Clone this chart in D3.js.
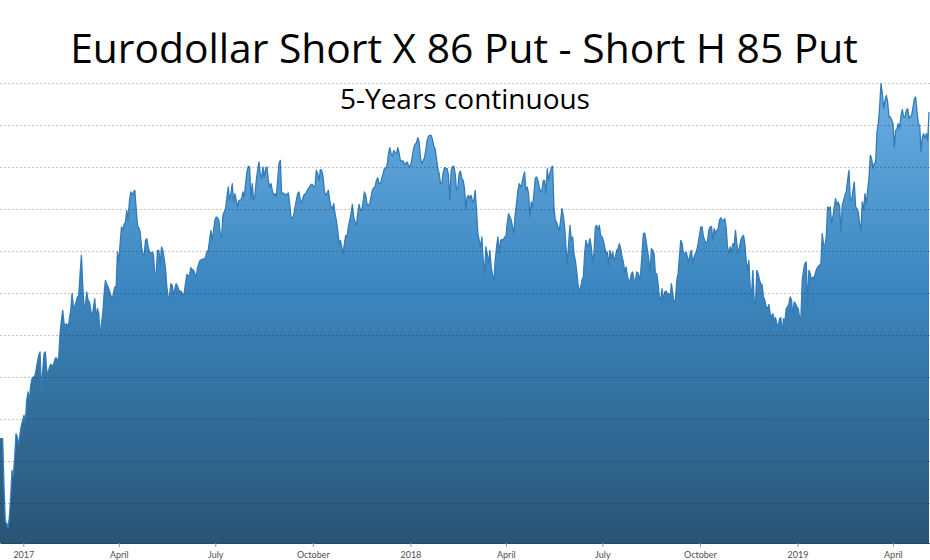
<!DOCTYPE html>
<html>
<head>
<meta charset="utf-8">
<script src="https://cdn.jsdelivr.net/npm/d3@7"></script>
<style>
  html, body { margin: 0; padding: 0; background: #fff; }
  svg { display: block; }
</style>
</head>
<body>
<svg id="chart" width="930" height="560"></svg>
<script>
// ---------------- DATA ----------------
const titleText = "Eurodollar Short X 86 Put - Short H 85 Put";
const subtitleText = "5-Years continuous";

// Series sampled at a regular time step from the first to the last date
const startDate = "2016-12-10";
const endDate = "2019-05-06";
const sampleStepHours = 30.21;

// Spread value (chart units; grid lines every 126 units)
const values = [
  // Dec 2016 - Jun 2017
  319,319,319,174,69,66,49,84,144,224,204,264,334,324,299,334,359,374,389,369,
  434,459,434,479,499,504,506,524,549,569,579,464,524,574,579,524,512,534,542,539,
  539,556,562,552,564,634,674,704,664,659,664,649,679,704,754,714,716,729,744,749,
  814,869,779,714,719,759,734,729,704,679,714,739,679,709,694,624,664,694,754,794,
  782,774,762,749,739,754,774,774,879,849,904,954,944,962,969,1004,974,1034,1059,1049,
  1059,1064,1009,957,952,939,894,874,869,914,919,894,879,874,879,869,
  // Jun 2017 - Nov 2017
  809,814,884,884,839,894,884,859,829,774,742,746,784,779,749,769,784,776,764,762,
  760,749,756,786,812,806,809,832,826,824,814,806,832,845,854,856,858,857,864,880,
  884,914,944,914,944,974,984,982,974,934,924,989,999,1009,1044,1074,1034,1054,1084,1029,
  1054,1034,1014,1034,1034,1039,1059,1044,1084,1119,1136,1134,1039,1084,1034,1049,1094,1124,1149,1114,
  1099,1134,1104,1129,1134,1094,1074,1084,1064,1049,1054,1044,1094,1144,1154,1054,1056,1054,1049,1052,
  1056,1024,984,979,989,1012,1034,1054,1059,1034,1026,1042,1052,1054,1062,1069,
  // Nov 2017 - Apr 2018
  1074,1082,1082,1074,1076,1124,1114,1094,1126,1124,1104,1064,1049,1054,1064,1034,1014,1009,1024,994,
  974,944,904,914,894,874,904,929,924,954,974,994,1022,982,969,959,994,1022,1004,1004,
  1029,1059,1049,1022,1020,1024,1044,1064,1072,1074,1094,1102,1084,1084,1100,1114,1130,1130,1139,1172,
  1192,1174,1166,1184,1176,1174,1192,1176,1152,1152,1152,1142,1144,1149,1139,1134,1144,1169,1192,1202,
  1206,1222,1209,1162,1144,1152,1162,1184,1214,1226,1229,1229,1216,1196,1189,1159,1129,1114,1084,1084,
  1116,1132,1130,1129,1109,1034,1124,1136,1136,1114,1064,1069,1116,1122,1099,1094,
  // Apr 2018 - Sep 2018
  1069,1009,1044,1049,1039,1049,1029,1034,1064,1004,934,914,894,924,854,814,894,874,844,884,
  834,809,794,854,894,924,874,914,916,914,924,924,964,994,984,974,954,934,994,1024,
  1064,1084,1074,1084,1104,1119,1064,1074,1054,984,1029,1014,1054,1099,1104,1094,1074,1059,1064,1094,
  1094,1054,1129,1094,1114,1132,1136,1014,974,969,954,944,974,1009,989,954,894,844,904,959,
  914,924,874,854,824,784,759,774,794,804,874,914,894,904,919,894,849,874,954,959,
  944,959,929,924,914,894,874,879,839,884,859,879,854,864,884,889,
  // Sep 2018 - Feb 2019
  904,889,864,849,819,834,809,789,794,814,819,794,794,819,816,794,819,874,934,936,
  914,884,859,814,889,884,874,814,814,784,744,734,769,734,759,762,754,754,739,784,
  754,729,734,794,814,864,914,904,874,874,879,864,846,874,884,844,864,874,884,904,
  929,954,954,924,914,906,909,944,954,956,914,949,934,944,949,974,982,974,974,979,
  954,894,874,894,879,904,899,944,904,874,894,914,924,929,904,854,824,854,774,744,
  824,734,724,824,814,794,784,779,744,734,714,709,722,694,684,694,
  // Feb 2019 - May 2019
  674,682,664,654,679,682,634,679,669,709,714,724,744,734,689,729,724,714,709,684,
  679,794,824,844,849,714,824,814,794,804,799,819,829,836,839,844,934,899,899,924,
  1014,1009,1014,964,984,1014,1039,1019,1029,1014,939,1019,1034,1049,1059,1094,1124,1034,1034,1064,
  1089,1014,1009,999,964,944,1029,1004,1054,1024,1064,1099,1169,1159,1129,1144,1149,1239,1264,1314,
  1384,1354,1309,1334,1349,1329,1284,1284,1274,1264,1194,1244,1249,1264,1249,1289,1306,1284,1284,1304,
  1309,1279,1286,1289,1314,1339,1344,1299,1264,1259,1179,1224,1234,1219,1234,1214,1299
];

const gridValues = [126, 252, 378, 504, 630, 756, 882, 1008, 1134, 1260, 1386];
const tickDates = ["2017-01-01","2017-04-01","2017-07-01","2017-10-01","2018-01-01",
                   "2018-04-01","2018-07-01","2018-10-01","2019-01-01","2019-04-01"];
const tickLabels = ["2017","April","July","October","2018","April","July","October","2019","April"];

// ---------------- LAYOUT ----------------
const W = 930, H = 560;
const plotLeft = 0, plotRight = 930, plotTop = 83, plotBottom = 543;
const parse = d3.timeParse("%Y-%m-%d");
const t0 = parse(startDate), t1 = parse(endDate);

const data = values.map((v, i) => ({
  date: new Date(+t0 + i * sampleStepHours * 3600 * 1000),
  value: v
}));

const x = d3.scaleTime().domain([t0, t1]).range([plotLeft, plotRight]);
const y = d3.scaleLinear().domain([0, 1386]).range([545, plotTop]);

const svg = d3.select("#chart");

// gradient
const defs = svg.append("defs");
const grad = defs.append("linearGradient")
  .attr("id", "areaGrad")
  .attr("gradientUnits", "userSpaceOnUse")
  .attr("x1", 0).attr("x2", 0)
  .attr("y1", plotTop).attr("y2", plotBottom);
grad.append("stop").attr("offset", "0%").attr("stop-color", "#6aafe4");
grad.append("stop").attr("offset", "45%").attr("stop-color", "#3b86c0");
grad.append("stop").attr("offset", "100%").attr("stop-color", "#295474");

// area
const area = d3.area()
  .x(d => x(d.date))
  .y0(plotBottom)
  .y1(d => y(d.value));
const line = d3.line()
  .x(d => x(d.date))
  .y(d => y(d.value));

svg.append("path")
  .datum(data)
  .attr("d", area)
  .attr("fill", "url(#areaGrad)");

svg.append("path")
  .datum(data)
  .attr("d", line)
  .attr("fill", "none")
  .attr("stroke", "#357bb6")
  .attr("stroke-width", 1.3)
  .attr("stroke-linejoin", "round");

// grid lines (drawn over the area, translucent)
svg.append("g")
  .selectAll("line")
  .data(gridValues)
  .join("line")
  .attr("x1", plotLeft).attr("x2", plotRight)
  .attr("y1", d => Math.round(y(d)) + 0.5)
  .attr("y2", d => Math.round(y(d)) + 0.5)
  .attr("stroke", "#000")
  .attr("stroke-opacity", 0.22)
  .attr("stroke-dasharray", "2,2");

// x axis
const xAxis = d3.axisBottom(x)
  .tickValues(tickDates.map(parse))
  .tickFormat((d, i) => tickLabels[i])
  .tickSizeInner(4)
  .tickSizeOuter(0);

const gx = svg.append("g")
  .attr("transform", `translate(0,${plotBottom})`)
  .call(xAxis);
gx.select(".domain").attr("stroke", "#25465f").attr("stroke-width", 1.2);
gx.selectAll(".tick line").attr("stroke", "#9a9a9a");
gx.selectAll(".tick text")
  .attr("fill", "#505050")
  .attr("font-family", "Lato, 'Open Sans', sans-serif")
  .attr("font-size", 9)
  .attr("dy", "0.9em");

// titles
const title = svg.append("text")
  .attr("x", 464).attr("y", 63)
  .attr("text-anchor", "middle")
  .attr("font-family", "'Open Sans', Lato, sans-serif")
  .attr("font-size", 38)
  .attr("fill", "#000")
  .text(titleText);
const tw = title.node().getComputedTextLength();
title.attr("font-size", 38 * 788 / tw);

const sub = svg.append("text")
  .attr("x", 465).attr("y", 109)
  .attr("text-anchor", "middle")
  .attr("font-family", "'Open Sans', Lato, sans-serif")
  .attr("font-size", 26)
  .attr("fill", "#000")
  .text(subtitleText);
const sw = sub.node().getComputedTextLength();
sub.attr("font-size", 26 * 250 / sw);
</script>
</body>
</html>
